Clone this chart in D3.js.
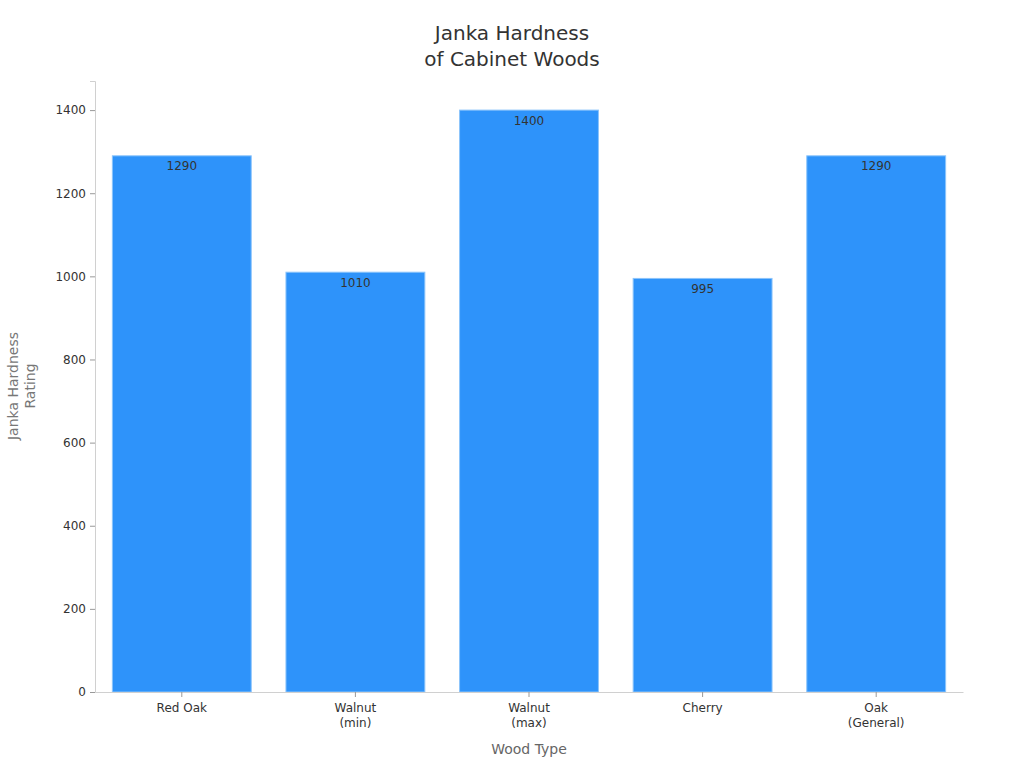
<!DOCTYPE html>
<html>
<head>
<meta charset="utf-8">
<script src="https://cdn.jsdelivr.net/npm/d3@7"></script>
<style>
  body { margin: 0; background: #fff; }
  svg { font-family: "DejaVu Sans", sans-serif; }
</style>
</head>
<body>
<svg id="chart" width="1024" height="768"></svg>
<script>
// chart data
const woods = ['Red Oak', 'Walnut\n(min)', 'Walnut\n(max)', 'Cherry', 'Oak\n(General)'];
const hardness = [1290, 1010, 1400, 995, 1290];
const yTicks = [0, 200, 400, 600, 800, 1000, 1200, 1400];

const width = 1024, height = 768;
const margin = { top: 81, right: 61, bottom: 76, left: 95 };

const svg = d3.select('#chart');

const x = d3.scaleBand()
    .domain(woods)
    .range([margin.left, width - margin.right])
    .paddingInner(0.2)
    .paddingOuter(0.1);

const y = d3.scaleLinear()
    .domain([0, 1470])
    .range([height - margin.bottom, margin.top]);

// title
svg.append('text')
    .attr('x', 512).attr('y', 34)
    .attr('text-anchor', 'middle')
    .attr('dominant-baseline', 'middle')
    .attr('font-size', 20).attr('fill', '#333')
    .selectAll('tspan')
    .data(['Janka Hardness', 'of Cabinet Woods'])
    .join('tspan')
    .attr('x', 512)
    .attr('dy', (d, i) => i === 0 ? 0 : 26)
    .text(d => d);

// bars
svg.append('g')
    .selectAll('rect')
    .data(hardness)
    .join('rect')
    .attr('x', (d, i) => x(woods[i]))
    .attr('y', d => y(d))
    .attr('width', x.bandwidth())
    .attr('height', d => y(0) - y(d))
    .attr('fill', '#2E93FA')
    .attr('stroke', '#8cc4fb')
    .attr('stroke-width', 1);

// value labels
svg.append('g')
    .selectAll('text')
    .data(hardness)
    .join('text')
    .attr('x', (d, i) => x(woods[i]) + x.bandwidth() / 2)
    .attr('y', d => y(d) + 11)
    .attr('text-anchor', 'middle')
    .attr('dominant-baseline', 'middle')
    .attr('font-size', 12)
    .attr('fill', '#333')
    .text(d => d);

// y axis
const yAxis = svg.append('g')
    .attr('transform', `translate(${margin.left},0)`)
    .call(d3.axisLeft(y).tickValues(yTicks).tickFormat(d3.format('d')).tickSize(5).tickPadding(4));
yAxis.select('.domain').attr('stroke', '#d0d0d0');
yAxis.selectAll('.tick line').attr('stroke', '#999');
yAxis.selectAll('.tick text').attr('font-size', 12).attr('fill', '#333')
    .attr('font-family', '"DejaVu Sans", sans-serif');

// x axis
const xAxis = svg.append('g')
    .attr('transform', `translate(0,${height - margin.bottom})`)
    .call(d3.axisBottom(x).tickSize(5).tickSizeOuter(0).tickPadding(6));
xAxis.select('.domain').attr('stroke', '#d0d0d0');
xAxis.selectAll('.tick line').attr('stroke', '#999');
xAxis.selectAll('.tick text').attr('font-size', 12).attr('fill', '#333')
    .attr('font-family', '"DejaVu Sans", sans-serif')
    .text(null)
    .each(function(d) {
        const t = d3.select(this);
        d.split('\n').forEach((line, i) => {
            t.append('tspan').attr('x', 0).attr('dy', i === 0 ? '0.71em' : '1.25em').text(line);
        });
    });

// axis titles
svg.append('text')
    .attr('x', (margin.left + width - margin.right) / 2)
    .attr('y', 750)
    .attr('text-anchor', 'middle')
    .attr('dominant-baseline', 'middle')
    .attr('font-size', 14).attr('fill', '#666')
    .text('Wood Type');

svg.append('text')
    .attr('transform', 'translate(14,386) rotate(-90)')
    .attr('text-anchor', 'middle')
    .attr('dominant-baseline', 'middle')
    .attr('font-size', 14).attr('fill', '#777')
    .selectAll('tspan')
    .data(['Janka Hardness', 'Rating'])
    .join('tspan')
    .attr('x', 0)
    .attr('dy', (d, i) => i === 0 ? 0 : 17)
    .text(d => d);
</script>
</body>
</html>
